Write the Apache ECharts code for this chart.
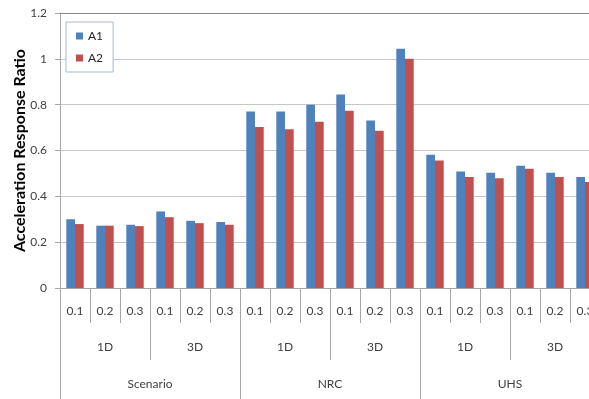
<!DOCTYPE html>
<html>
<head>
<meta charset="utf-8">
<script src="https://cdn.jsdelivr.net/npm/echarts@6/dist/echarts.min.js"></script>
<style>
html, body { margin: 0; padding: 0; background: #fff; }
#myChart { width: 589px; height: 399px; }
</style>
</head>
<body>
<div id="myChart"></div>
<script>
var levels = ['0.1', '0.2', '0.3', '0.1', '0.2', '0.3', '0.1', '0.2', '0.3', '0.1', '0.2', '0.3', '0.1', '0.2', '0.3', '0.1', '0.2', '0.3'];
var dims = ['1D', '3D', '1D', '3D', '1D', '3D'];
var groups = ['Scenario', 'NRC', 'UHS'];
var a1 = [0.30, 0.272, 0.276, 0.334, 0.293, 0.288, 0.77, 0.77, 0.80, 0.844, 0.731, 1.044, 0.581, 0.508, 0.503, 0.534, 0.503, 0.484];
var a2 = [0.279, 0.272, 0.27, 0.309, 0.283, 0.276, 0.703, 0.693, 0.726, 0.773, 0.686, 1.0, 0.556, 0.484, 0.479, 0.52, 0.484, 0.463];

var font = 'Lato, "Open Sans", sans-serif';
var lineColor = '#a6a6a6';
var myChart = echarts.init(document.getElementById('myChart'));

function levelAxis(data, tickLen, margin) {
    return {
        type: 'category',
        data: data,
        position: 'bottom',
        boundaryGap: true,
        axisLine: { show: false },
        axisTick: { show: true, interval: 0, length: tickLen, lineStyle: { color: lineColor } },
        axisLabel: { interval: 0, margin: margin, color: '#404040', fontSize: 12, fontFamily: font },
        splitLine: { show: false }
    };
}

var option = {
    animation: false,
    grid: { left: 60, top: 13, width: 540, height: 275, containLabel: false, outerBoundsMode: 'none' },
    legend: {
        orient: 'vertical',
        left: 66,
        top: 22,
        itemWidth: 7,
        itemHeight: 7,
        itemGap: 10,
        padding: [8, 10, 8, 10],
        borderColor: '#a9b9d3',
        borderWidth: 1,
        backgroundColor: '#fff',
        icon: 'rect',
        textStyle: { color: '#262626', fontSize: 12, fontFamily: font }
    },
    xAxis: [
        {
            type: 'category',
            data: levels,
            position: 'bottom',
            boundaryGap: true,
            axisLine: { show: true, lineStyle: { color: lineColor } },
            axisTick: { show: true, interval: 0, length: 35, lineStyle: { color: lineColor } },
            axisLabel: { interval: 0, margin: 17, color: '#404040', fontSize: 12, fontFamily: font },
            splitLine: { show: false }
        },
        levelAxis(dims, 72, 53),
        levelAxis(groups, 111, 90),
        {
            type: 'category',
            data: levels,
            position: 'top',
            axisLine: { show: true, lineStyle: { color: '#868686' } },
            axisTick: { show: false },
            axisLabel: { show: false }
        }
    ],
    yAxis: {
        type: 'value',
        min: 0,
        max: 1.2,
        interval: 0.2,
        name: 'Acceleration Response Ratio',
        nameLocation: 'middle',
        nameGap: 32,
        nameMoveOverlap: false,
        nameTextStyle: { fontWeight: 'bold', fontSize: 16, color: '#000', fontFamily: font },
        axisLine: { show: true, lineStyle: { color: lineColor } },
        axisTick: { show: true, length: 5, lineStyle: { color: lineColor } },
        axisLabel: { margin: 13, color: '#404040', fontSize: 12, fontFamily: font },
        splitLine: { show: true, lineStyle: { color: '#c6c6c6' } }
    },
    series: [
        { name: 'A1', type: 'bar', data: a1, barWidth: 8.7, barGap: '0%', itemStyle: { color: '#4f81bd' } },
        { name: 'A2', type: 'bar', data: a2, barWidth: 8.7, barGap: '0%', itemStyle: { color: '#c0504d' } }
    ]
};
myChart.setOption(option);

window.onresize = function () {
    myChart.resize();
};
</script>
</body>
</html>
